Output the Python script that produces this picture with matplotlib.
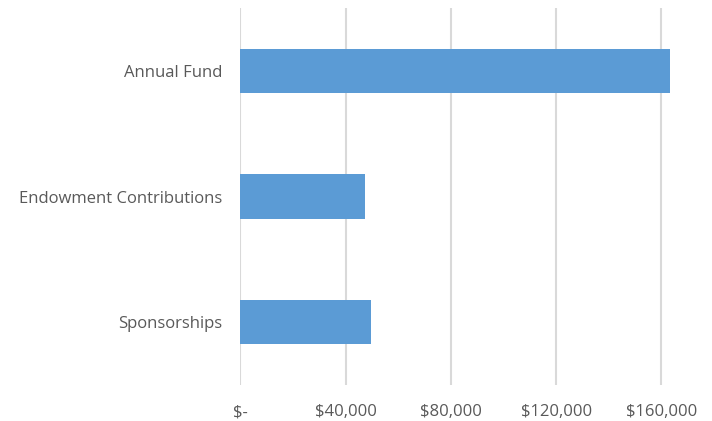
import matplotlib.pyplot as plt
from matplotlib.ticker import FuncFormatter

# data
categorias = ['Annual Fund', 'Endowment Contributions', 'Sponsorships']
valores = [163300, 47500, 49500]
ticks_x = [0, 40000, 80000, 120000, 160000]


def formato_dolar(v, pos):
    if v == 0:
        return '$-'
    return f'${v:,.0f}'


plt.rcParams['font.family'] = ['Open Sans', 'DejaVu Sans']

fig = plt.figure(figsize=(7.12, 4.21), dpi=100)
ax = fig.add_axes([0.3375, 0.0855, 0.6625, 0.8955])

posicoes = list(range(len(categorias)))
ax.barh(posicoes, valores, height=0.353, color='#5B9BD5', zorder=3)

ax.set_ylim(len(categorias) - 0.5, -0.5)
ax.set_yticks(posicoes)
ax.set_yticklabels(categorias)

ax.set_xlim(0, 179200)
ax.set_xticks(ticks_x)
ax.xaxis.set_major_formatter(FuncFormatter(formato_dolar))
ax.grid(axis='x', color='#d9d9d9', linewidth=1.5, zorder=0)

for lado in ['top', 'right', 'bottom', 'left']:
    ax.spines[lado].set_visible(False)

ax.tick_params(axis='both', length=0, labelsize=12, colors='#595959')
ax.tick_params(axis='x', pad=14)
ax.tick_params(axis='y', pad=13)

fig.savefig('out.png', dpi=100)
